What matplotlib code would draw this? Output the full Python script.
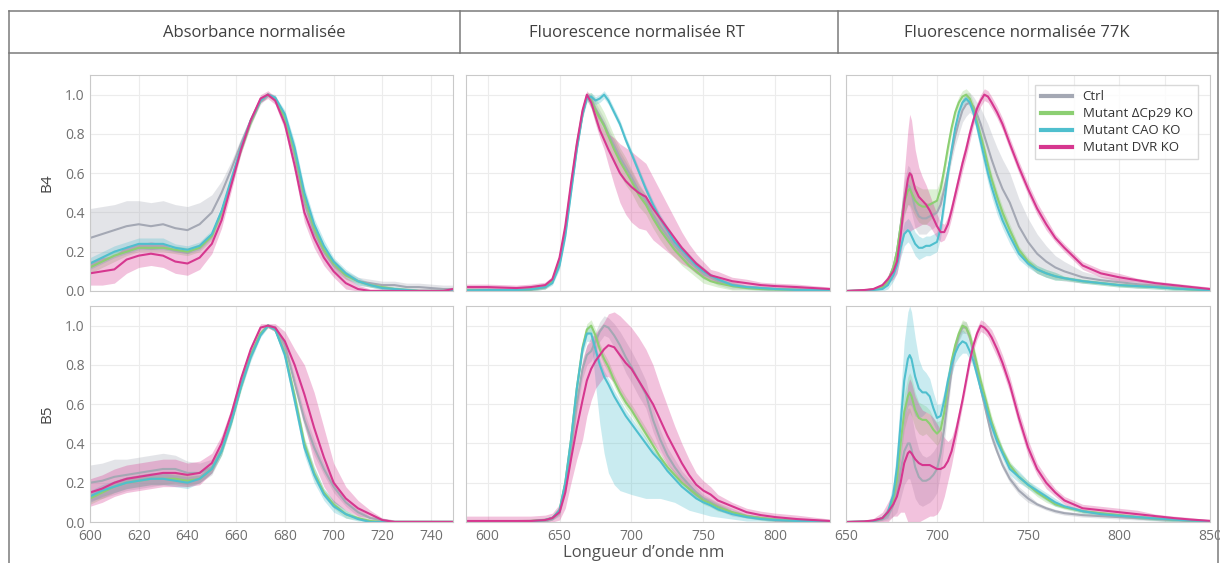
import numpy as np
import matplotlib
matplotlib.use('agg')
import matplotlib.pyplot as plt
from matplotlib.lines import Line2D

plt.rcParams['font.family'] = ['Open Sans', 'DejaVu Sans']

names = ['Ctrl', 'Mutant \u0394Cp29 KO', 'Mutant CAO KO', 'Mutant DVR KO']
colors = ['#a4a8b4', '#8ccf72', '#4fbfce', '#d6378f']
titles = ['Absorbance normalisée', 'Fluorescence normalisée RT', 'Fluorescence normalisée 77K']
rows = ['B4', 'B5']

# ---- absorbance ----
abs_nm = [600, 605, 610, 615, 620, 625, 630, 635, 640, 645, 650,
          654, 658, 662, 666, 670, 673, 676, 680, 684, 688, 692, 696,
          700, 705, 710, 715, 720, 725, 730, 735, 740, 745, 749]

abs_b4_ctrl = [.27, .29, .31, .33, .34, .33, .34, .32, .31, .34, .40,
               .50, .62, .75, .87, .97, 1.0, .98, .88, .69, .45, .30, .20,
               .13, .08, .05, .04, .03, .03, .02, .02, .015, .01, .01]
abs_b4_ctrl_sd = [.15, .14, .13, .13, .12, .12, .12, .12, .12, .11, .09,
                  .06, .04, .03, .02, .02, .01, .02, .02, .03, .03, .03, .03,
                  .03, .02, .02, .02, .02, .02, .02, .02, .02, .02, .02]
abs_b4_cp29 = [.12, .15, .18, .20, .22, .22, .22, .21, .20, .22, .28,
               .40, .56, .72, .86, .97, 1.0, .98, .88, .71, .48, .32, .21,
               .14, .08, .05, .03, .02, .01, .005, 0, 0, 0, 0]
abs_b4_cp29_sd = [.03, .03, .03, .02, .02, .02, .02, .02, .02, .02, .02,
                  .02, .02, .02, .02, .01, .01, .01, .02, .02, .02, .02, .02,
                  .02, .02, .01, .01, .01, .01, .01, .01, .01, .01, .01]
abs_b4_cao = [.14, .17, .20, .22, .24, .24, .24, .22, .21, .23, .29,
              .41, .57, .73, .87, .97, 1.0, .985, .90, .73, .50, .34, .23,
              .15, .09, .05, .03, .015, .01, .005, 0, 0, 0, 0]
abs_b4_cao_sd = [.03, .03, .03, .03, .03, .03, .03, .02, .02, .02, .02,
                 .02, .02, .02, .02, .01, .01, .01, .02, .03, .03, .03, .03,
                 .02, .02, .02, .01, .01, .01, .01, .01, .01, .01, .01]
abs_b4_dvr = [.09, .10, .11, .16, .18, .19, .18, .15, .14, .17, .24,
              .36, .54, .72, .87, .98, 1.0, .97, .85, .64, .40, .27, .17,
              .10, .04, .01, 0, 0, 0, 0, 0, 0, 0, .01]
abs_b4_dvr_sd = [.06, .07, .07, .07, .06, .06, .06, .06, .06, .06, .05,
                 .04, .03, .02, .02, .02, .02, .02, .03, .04, .05, .05, .04,
                 .03, .03, .02, .01, .01, .01, .01, .01, .01, .01, .01]

abs_b5_ctrl = [.20, .21, .23, .24, .25, .26, .27, .27, .25, .25, .28,
               .37, .52, .70, .85, .96, 1.0, .99, .90, .71, .52, .38, .27,
               .18, .10, .05, .02, .01, 0, 0, 0, 0, 0, 0]
abs_b5_ctrl_sd = [.09, .09, .09, .08, .08, .08, .08, .07, .06, .05, .04,
                  .03, .02, .02, .02, .01, .01, .01, .02, .03, .04, .04, .03,
                  .03, .02, .02, .01, .01, .01, .01, .01, .01, .01, .01]
abs_b5_cp29 = [.12, .15, .18, .20, .21, .22, .22, .22, .21, .22, .27,
               .36, .51, .69, .85, .96, 1.0, .98, .86, .64, .40, .25, .15,
               .09, .04, .02, .005, 0, 0, 0, 0, 0, 0, 0]
abs_b5_cp29_sd = [.03, .03, .03, .03, .03, .03, .03, .03, .03, .02, .02,
                  .02, .02, .02, .02, .01, .01, .01, .02, .03, .03, .03, .02,
                  .02, .02, .01, .01, .01, .01, .01, .01, .01, .01, .01]
abs_b5_cao = [.13, .16, .18, .20, .21, .22, .22, .21, .20, .22, .27,
              .36, .51, .69, .84, .95, 1.0, .98, .85, .62, .38, .24, .14,
              .08, .04, .015, 0, 0, 0, 0, 0, 0, 0, 0]
abs_b5_cao_sd = [.03, .03, .03, .03, .03, .03, .03, .03, .03, .02, .02,
                 .02, .02, .02, .02, .01, .01, .01, .03, .04, .04, .04, .03,
                 .03, .02, .01, .01, .01, .01, .01, .01, .01, .01, .01]
abs_b5_dvr = [.15, .17, .20, .22, .23, .24, .25, .25, .24, .25, .30,
              .40, .55, .73, .88, .99, 1.0, .99, .92, .80, .65, .48, .33,
              .20, .12, .07, .04, .01, 0, 0, 0, 0, 0, 0]
abs_b5_dvr_sd = [.07, .07, .07, .07, .07, .07, .07, .07, .06, .06, .05,
                 .04, .03, .02, .02, .02, .01, .02, .05, .08, .15, .18, .15,
                 .10, .06, .04, .02, .01, .01, .01, .01, .01, .01, .01]

# ---- fluorescence at room temperature ----
rt_nm = [585, 600, 620, 630, 640, 645,
         650, 654, 658, 662, 666, 669, 672, 675, 678, 681, 684, 688, 692, 696,
         700, 705, 710, 715, 720, 725, 730, 735, 740, 745, 750, 755, 760,
         770, 780, 790, 800, 815, 838]

rt_b4_ctrl = [.005, .005, .005, .008, .02, .05,
              .14, .30, .52, .73, .90, .99, .98, .93, .89, .85, .80, .74, .68, .63,
              .58, .51, .46, .39, .33, .28, .23, .19, .15, .12, .09, .07, .05,
              .03, .02, .015, .01, .008, .005]
rt_b4_ctrl_sd = [.01, .01, .01, .01, .01, .01,
                 .02, .02, .02, .02, .02, .01, .02, .03, .03, .03, .03, .03, .03, .03,
                 .03, .03, .03, .03, .03, .03, .03, .03, .03, .03, .03, .02, .02,
                 .02, .01, .01, .01, .01, .01]
rt_b4_cp29 = [.005, .005, .005, .008, .02, .05,
              .15, .31, .53, .74, .91, .99, .97, .92, .88, .84, .79, .72, .66, .61,
              .56, .49, .44, .37, .31, .26, .21, .17, .13, .10, .07, .05, .04,
              .025, .015, .01, .008, .005, .005]
rt_b4_cp29_sd = [.01, .01, .01, .01, .01, .01,
                 .02, .02, .02, .02, .02, .02, .04, .06, .07, .07, .07, .07, .07, .07,
                 .06, .06, .05, .05, .05, .05, .04, .04, .03, .03, .03, .02, .02,
                 .02, .01, .01, .01, .01, .01]
rt_b4_cao = [.003, .005, .005, .008, .02, .04,
             .13, .28, .50, .72, .90, .98, .99, .97, .98, 1.0, .97, .91, .85, .77,
             .70, .61, .52, .44, .37, .31, .25, .21, .17, .13, .10, .08, .06,
             .03, .02, .015, .01, .005, .005]
rt_b4_cao_sd = [.01, .01, .01, .01, .01, .01,
                .02, .02, .02, .02, .02, .02, .02, .02, .02, .02, .02, .02, .02, .02,
                .02, .02, .02, .02, .02, .02, .02, .02, .02, .02, .02, .01, .01,
                .01, .01, .01, .01, .01, .01]
rt_b4_dvr = [.02, .02, .015, .02, .03, .06,
             .17, .33, .55, .75, .92, 1.0, .96, .89, .82, .77, .72, .66, .60, .56,
             .53, .50, .48, .42, .37, .32, .27, .22, .18, .14, .11, .08, .07,
             .05, .04, .03, .025, .02, .01]
rt_b4_dvr_sd = [.015, .015, .015, .015, .015, .015,
                .02, .02, .02, .02, .02, .02, .03, .04, .04, .05, .08, .12, .15, .17,
                .18, .18, .17, .16, .14, .12, .10, .08, .06, .05, .04, .03, .03,
                .02, .02, .015, .015, .015, .01]

rt_b5_ctrl = [.003, .003, .003, .005, .01, .02,
              .05, .17, .37, .60, .78, .85, .87, .92, .97, 1.0, .99, .95, .90, .84,
              .79, .72, .65, .52, .42, .34, .28, .23, .19, .15, .12, .10, .08,
              .05, .03, .02, .012, .006, .003]
rt_b5_ctrl_sd = [.01, .01, .01, .01, .01, .01,
                 .02, .03, .04, .05, .05, .05, .05, .05, .05, .05, .05, .06, .07, .08,
                 .08, .08, .07, .06, .05, .04, .04, .03, .03, .03, .02, .02, .02,
                 .02, .01, .01, .01, .01, .01]
rt_b5_cp29 = [.003, .003, .003, .005, .01, .02,
              .06, .20, .42, .68, .89, .98, 1.0, .95, .88, .83, .79, .72, .66, .61,
              .57, .51, .45, .39, .33, .28, .24, .20, .17, .14, .11, .095, .075,
              .05, .03, .02, .012, .006, .003]
rt_b5_cp29_sd = [.01, .01, .01, .01, .01, .01,
                 .02, .03, .03, .03, .03, .03, .03, .03, .03, .03, .03, .03, .03, .03,
                 .03, .03, .03, .03, .02, .02, .02, .02, .02, .02, .02, .02, .02,
                 .01, .01, .01, .01, .01, .01]
rt_b5_cao = [0, 0, 0, .003, .01, .02,
             .06, .20, .42, .68, .88, .96, .96, .88, .80, .74, .70, .64, .59, .54,
             .50, .45, .40, .35, .31, .26, .22, .18, .15, .12, .10, .085, .065,
             .04, .025, .015, .01, .005, .003]
rt_b5_cao_lo = [.005, .005, .005, .005, .01, .01,
                .02, .03, .03, .03, .03, .04, .04, .18, .30, .39, .45, .45, .43, .39,
                .36, .32, .28, .23, .19, .15, .12, .10, .09, .07, .06, .055, .04,
                .025, .02, .01, .01, .005, .003]
rt_b5_cao_hi = [.005, .005, .005, .005, .01, .01,
                .02, .03, .04, .04, .04, .04, .03, .03, .03, .03, .03, .03, .03, .03,
                .03, .03, .03, .02, .02, .02, .02, .02, .02, .02, .02, .02, .02,
                .01, .01, .01, .01, .005, .003]
rt_b5_dvr = [.005, .005, .005, .005, .01, .02,
             .05, .15, .32, .48, .62, .72, .78, .82, .85, .88, .90, .89, .85, .81,
             .78, .72, .66, .60, .52, .44, .37, .30, .24, .19, .16, .14, .11,
             .08, .05, .035, .025, .015, .005]
rt_b5_dvr_sd = [.025, .025, .025, .025, .025, .025,
                .04, .08, .12, .16, .20, .18, .16, .14, .14, .14, .16, .18, .20, .21,
                .21, .22, .22, .20, .17, .15, .12, .10, .08, .06, .05, .04, .03,
                .02, .02, .02, .02, .02, .01]

# ---- fluorescence at 77 K ----
k77_nm = [650, 660, 665, 670, 673, 676, 678, 680, 682, 684,
          685, 686, 688, 690, 692, 694, 696, 698, 700, 702,
          704, 706, 708, 710, 712, 714, 716, 718, 720, 722,
          724, 726, 728, 730, 733, 736, 740, 745, 750, 755,
          760, 765, 770, 780, 790, 800, 810, 820, 830, 840, 850]

k77_b4_ctrl = [0, .003, .008, .02, .05, .12, .20, .33, .47, .54,
               .53, .50, .42, .38, .37, .37, .38, .39, .40, .44,
               .52, .61, .70, .79, .86, .92, .95, .96, .94, .90,
               .85, .79, .73, .67, .59, .52, .45, .33, .25, .19,
               .15, .12, .10, .07, .055, .045, .035, .028, .02, .012, .006]
k77_b4_ctrl_sd = [0, .002, .005, .01, .02, .03, .05, .07, .09, .10,
                  .10, .10, .10, .09, .08, .08, .07, .07, .06, .05,
                  .04, .04, .04, .05, .06, .06, .06, .05, .05, .06,
                  .08, .10, .12, .13, .14, .15, .15, .14, .12, .10,
                  .08, .06, .05, .03, .02, .02, .02, .01, .01, .01, .005]
k77_b4_cp29 = [0, .003, .008, .02, .05, .12, .20, .33, .45, .51,
               .52, .50, .46, .44, .43, .43, .44, .45, .46, .52,
               .62, .73, .83, .91, .96, .99, 1.0, .98, .93, .86,
               .79, .72, .64, .57, .48, .40, .31, .21, .15, .11,
               .09, .075, .065, .05, .04, .03, .025, .02, .013, .008, .004]
k77_b4_cp29_sd = [0, .002, .004, .01, .02, .03, .04, .05, .06, .07,
                  .08, .08, .08, .09, .09, .09, .08, .07, .06, .05,
                  .04, .04, .03, .03, .03, .03, .03, .03, .03, .03,
                  .03, .03, .03, .03, .03, .03, .03, .02, .02, .02,
                  .02, .02, .01, .01, .01, .01, .01, .01, .01, .01, .005]
k77_b4_cao = [0, .002, .005, .01, .03, .08, .13, .22, .29, .31,
              .30, .28, .24, .22, .22, .23, .23, .24, .25, .32,
              .45, .60, .72, .83, .91, .96, .98, .96, .91, .84,
              .76, .68, .60, .53, .44, .36, .28, .19, .14, .11,
              .09, .075, .065, .05, .04, .03, .025, .02, .013, .008, .004]
k77_b4_cao_sd = [0, .002, .004, .01, .02, .03, .04, .05, .06, .06,
                 .06, .06, .06, .06, .05, .05, .05, .05, .05, .05,
                 .04, .04, .03, .03, .02, .02, .02, .02, .03, .04,
                 .05, .05, .05, .05, .05, .04, .04, .03, .02, .02,
                 .02, .02, .01, .01, .01, .01, .01, .01, .01, .01, .005]
k77_b4_dvr = [0, .005, .01, .03, .06, .10, .15, .28, .45, .57,
              .60, .59, .52, .48, .46, .44, .41, .37, .33, .30,
              .30, .34, .41, .49, .57, .65, .72, .80, .87, .93,
              .97, 1.0, .99, .96, .91, .85, .75, .63, .52, .42,
              .34, .27, .22, .13, .09, .07, .055, .04, .03, .02, .01]
k77_b4_dvr_sd = [0, .003, .005, .01, .02, .04, .06, .10, .15, .25,
                 .30, .28, .20, .15, .12, .10, .08, .07, .06, .05,
                 .04, .04, .04, .04, .04, .04, .04, .04, .03, .03,
                 .03, .03, .03, .03, .03, .03, .03, .03, .03, .03,
                 .03, .02, .02, .02, .02, .02, .01, .01, .01, .01, .01]

k77_b5_ctrl = [0, .002, .005, .015, .04, .09, .15, .26, .36, .40,
               .40, .37, .28, .23, .21, .21, .22, .24, .27, .35,
               .48, .63, .77, .88, .95, .99, .99, .94, .86, .77,
               .68, .60, .52, .44, .36, .29, .22, .16, .12, .09,
               .07, .055, .045, .035, .03, .025, .02, .015, .01, .006, .003]
k77_b5_ctrl_sd = [0, .002, .005, .01, .03, .06, .10, .14, .17, .18,
                  .18, .18, .16, .14, .13, .12, .12, .12, .12, .10,
                  .08, .06, .04, .03, .03, .03, .03, .03, .03, .03,
                  .03, .03, .03, .03, .02, .02, .02, .02, .02, .01,
                  .01, .01, .01, .01, .01, .01, .01, .01, .01, .005, .003]
k77_b5_cp29 = [0, .002, .005, .02, .05, .12, .22, .40, .56, .64,
               .66, .64, .57, .53, .52, .52, .50, .47, .45, .47,
               .56, .70, .82, .90, .96, 1.0, .99, .95, .88, .80,
               .72, .65, .58, .51, .43, .36, .29, .23, .19, .15,
               .12, .09, .075, .055, .045, .035, .025, .018, .012, .007, .004]
k77_b5_cp29_sd = [0, .002, .004, .01, .02, .04, .06, .08, .09, .10,
                  .10, .10, .09, .08, .08, .07, .07, .06, .06, .05,
                  .04, .03, .03, .03, .03, .03, .03, .03, .03, .03,
                  .03, .03, .03, .03, .03, .02, .02, .02, .02, .02,
                  .02, .01, .01, .01, .01, .01, .01, .01, .01, .01, .005]
k77_b5_cao = [0, .002, .005, .02, .05, .14, .28, .50, .72, .83,
              .85, .83, .74, .68, .66, .66, .64, .58, .53, .54,
              .62, .72, .80, .86, .90, .92, .91, .87, .82, .75,
              .68, .62, .55, .49, .41, .35, .27, .23, .19, .16,
              .13, .10, .08, .055, .04, .032, .025, .018, .012, .007, .004]
k77_b5_cao_sd = [0, .002, .005, .01, .03, .06, .10, .15, .20, .24,
                 .25, .24, .20, .15, .12, .10, .09, .08, .07, .06,
                 .05, .05, .05, .05, .06, .06, .05, .04, .03, .03,
                 .03, .03, .03, .03, .03, .03, .03, .03, .02, .02,
                 .02, .02, .01, .01, .01, .01, .01, .01, .01, .01, .005]
k77_b5_dvr = [0, .003, .008, .02, .05, .09, .13, .20, .30, .35,
              .36, .35, .32, .30, .29, .29, .29, .28, .27, .27,
              .28, .31, .36, .44, .53, .62, .72, .82, .90, .96,
              1.0, .99, .97, .94, .88, .81, .70, .53, .38, .27,
              .20, .15, .11, .07, .06, .05, .04, .03, .02, .012, .006]
k77_b5_dvr_sd = [0, .005, .01, .03, .05, .06, .10, .15, .25, .35,
                 .37, .36, .32, .30, .28, .27, .26, .25, .23, .20,
                 .15, .10, .07, .05, .04, .03, .03, .03, .03, .03,
                 .03, .03, .03, .04, .04, .04, .04, .04, .04, .03,
                 .03, .02, .02, .02, .02, .02, .02, .01, .01, .01, .005]

panels = [
    [(abs_nm, [abs_b4_ctrl, abs_b4_cp29, abs_b4_cao, abs_b4_dvr],
      [abs_b4_ctrl_sd, abs_b4_cp29_sd, abs_b4_cao_sd, abs_b4_dvr_sd]),
     (rt_nm, [rt_b4_ctrl, rt_b4_cp29, rt_b4_cao, rt_b4_dvr],
      [rt_b4_ctrl_sd, rt_b4_cp29_sd, rt_b4_cao_sd, rt_b4_dvr_sd]),
     (k77_nm, [k77_b4_ctrl, k77_b4_cp29, k77_b4_cao, k77_b4_dvr],
      [k77_b4_ctrl_sd, k77_b4_cp29_sd, k77_b4_cao_sd, k77_b4_dvr_sd])],
    [(abs_nm, [abs_b5_ctrl, abs_b5_cp29, abs_b5_cao, abs_b5_dvr],
      [abs_b5_ctrl_sd, abs_b5_cp29_sd, abs_b5_cao_sd, abs_b5_dvr_sd]),
     (rt_nm, [rt_b5_ctrl, rt_b5_cp29, rt_b5_cao, rt_b5_dvr],
      [rt_b5_ctrl_sd, rt_b5_cp29_sd, (rt_b5_cao_lo, rt_b5_cao_hi), rt_b5_dvr_sd]),
     (k77_nm, [k77_b5_ctrl, k77_b5_cp29, k77_b5_cao, k77_b5_dvr],
      [k77_b5_ctrl_sd, k77_b5_cp29_sd, k77_b5_cao_sd, k77_b5_dvr_sd])],
]

xlims = [(600, 749), (585, 838), (650, 850)]
xticks = [np.arange(600, 741, 20), np.arange(600, 801, 50), np.arange(650, 851, 50)]

W, H = 1220, 563
fig = plt.figure(figsize=(W/100, H/100), dpi=100)

# frame and header boxes (pixel coords -> figure fraction)
def fline(x0, y0, x1, y1):
    fig.add_artist(Line2D([x0/W, x1/W], [1-y0/H, 1-y1/H], color='#7a7a7a', lw=1.1))

fline(9, 11, 1218, 11)
fline(9, 53, 1218, 53)
fline(9, 11, 9, 563)
fline(1218, 11, 1218, 563)
fline(460, 11, 460, 53)
fline(838, 11, 838, 53)

title_x = [254, 637, 1017]
for t, tx in zip(titles, title_x):
    fig.text(tx/W, 1-33/H, t, ha='center', va='center', fontsize=12, color='#404040')

lefts = [90, 466, 846]
widths = [363, 364, 364]
tops = [75, 306]
ah = 216

for r in range(2):
    for c in range(3):
        ax = fig.add_axes([lefts[c]/W, 1-(tops[r]+ah)/H, widths[c]/W, ah/H])
        nm, curves, sds = panels[r][c]
        for y, sd, col in zip(curves, sds, colors):
            y = np.array(y)
            if isinstance(sd, tuple):
                lo, hi = np.array(sd[0]), np.array(sd[1])
            else:
                lo = hi = np.array(sd)
            ax.fill_between(nm, np.clip(y-lo, 0, None), y+hi, color=col, alpha=0.3, lw=0)
        for y, col, lab in zip(curves, colors, names):
            ax.plot(nm, y, color=col, lw=1.5, label=lab)
        ax.set_xlim(*xlims[c])
        ax.set_ylim(0, 1.1)
        ax.set_xticks(xticks[c])
        if c == 2:
            ax.set_xticks(np.arange(650, 851, 25), minor=True)
        ax.set_yticks([0, .2, .4, .6, .8, 1.0])
        ax.grid(True, which='both', color='#ececec', lw=0.8)
        ax.set_axisbelow(True)
        for s in ax.spines.values():
            s.set_color('#c9c9c9')
        ax.tick_params(which='both', length=0, labelsize=10, labelcolor='#707070')
        ax.tick_params(axis='x', pad=5)
        ax.tick_params(axis='y', pad=4)
        if r == 0:
            ax.tick_params(labelbottom=False)
        if c > 0:
            ax.tick_params(labelleft=False)
        if r == 0 and c == 2:
            leg = ax.legend(loc='upper right', bbox_to_anchor=(1-12/364, 1-10/216),
                            borderaxespad=0, fontsize=9.5, handlelength=2.4,
                            labelspacing=0.3, frameon=True, fancybox=False)
            leg.get_frame().set_edgecolor('#d0d0d0')
            for line in leg.get_lines():
                line.set_linewidth(3)
            for txt in leg.get_texts():
                txt.set_color('#333333')

fig.text(47/W, 1-183/H, rows[0], rotation=90, ha='center', va='center', fontsize=11, color='#444444')
fig.text(47/W, 1-413.5/H, rows[1], rotation=90, ha='center', va='center', fontsize=11, color='#444444')
fig.text(644/W, 1-553/H, 'Longueur d\u2019onde nm', ha='center', va='center', fontsize=12, color='#505050')

fig.savefig('out.png', dpi=100)
